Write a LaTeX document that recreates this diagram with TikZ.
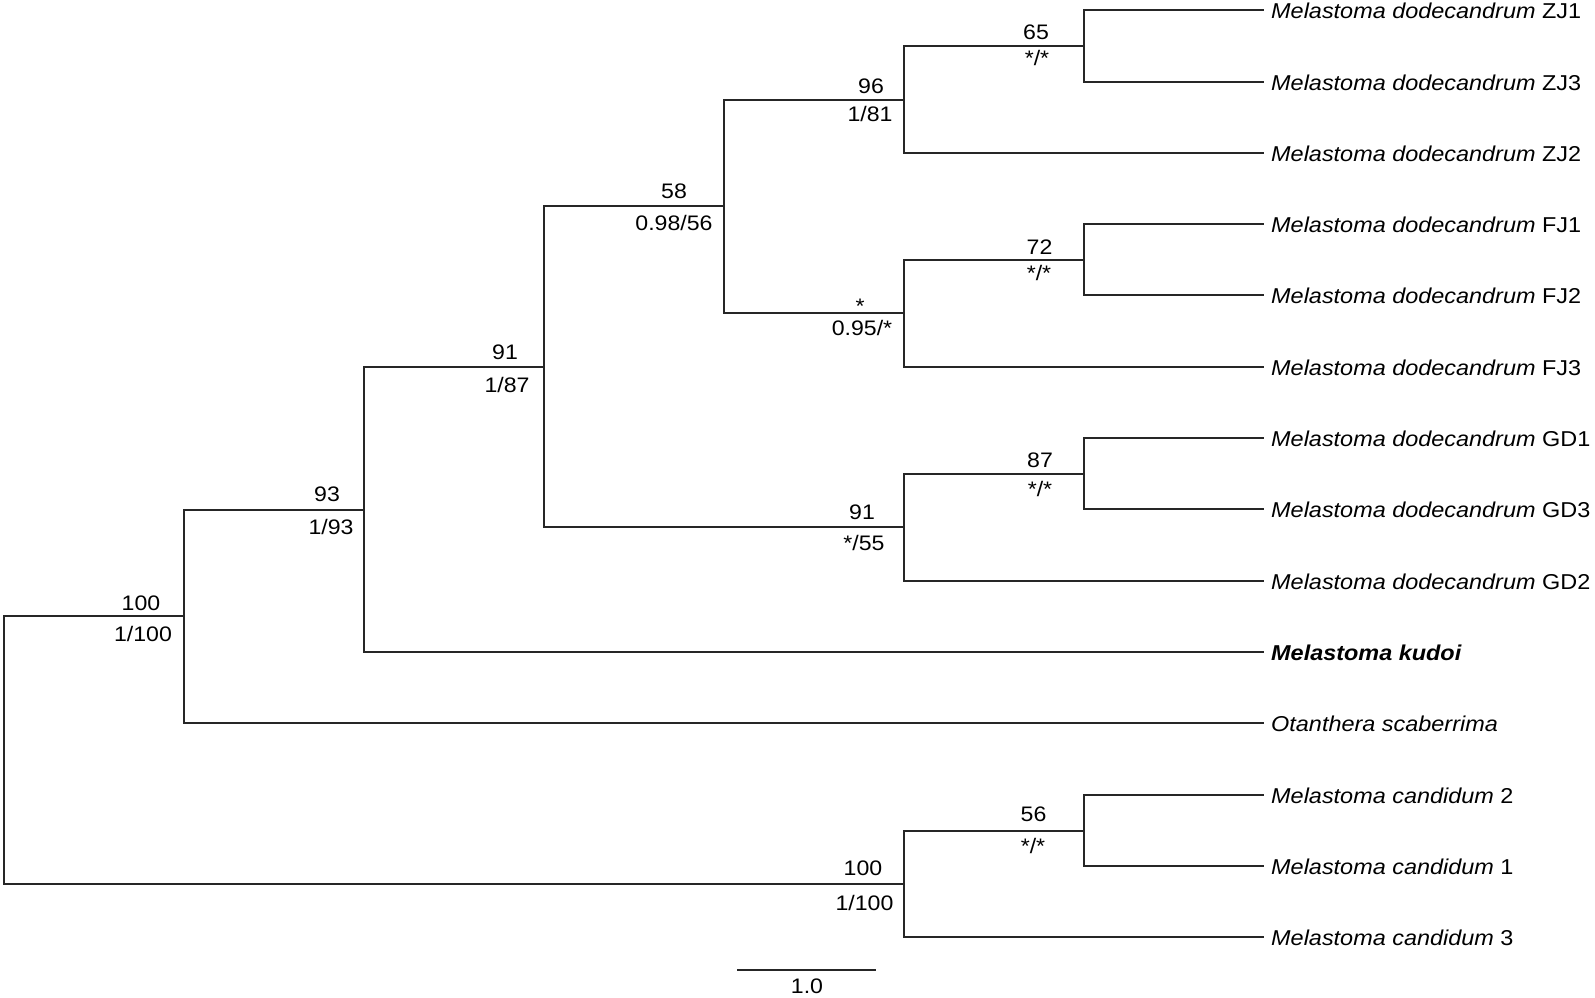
\documentclass[tikz,border=0pt]{standalone}
\usepackage{fontspec}
\setmainfont{Liberation Sans}
\newfontfamily\leaffont[FakeStretch=1.09]{Liberation Sans}
\newfontfamily\supfont[FakeStretch=1.1]{Liberation Sans}
\begin{document}
\begin{tikzpicture}[x=1pt,y=-1pt,
  br/.style={line width=2pt, draw=black!85, line cap=rect},
  leaf/.style={anchor=west, inner ysep=0pt, inner xsep=8pt, text height=17pt, text depth=0pt,
    font=\leaffont\itshape\fontsize{21.5}{25}\selectfont},
  suplab/.style={inner sep=0pt, text height=15pt, text depth=0pt, font=\supfont\fontsize{21}{25}\selectfont}]
\useasboundingbox (0,0) rectangle (1595,997);
% internal nodes
\coordinate (root) at (4,750);
\coordinate (n100) at (184,616);
\coordinate (n93) at (364,510);
\coordinate (n91a) at (544,367);
\coordinate (n58) at (724,206);
\coordinate (n96) at (904,100);
\coordinate (n65) at (1084,46);
\coordinate (nst) at (904,313);
\coordinate (n72) at (1084,260);
\coordinate (n91b) at (904,527);
\coordinate (n87) at (1084,474);
\coordinate (nc) at (904,884);
\coordinate (n56) at (1084,831);
% leaves
\node[leaf] (ZJ1) at (1263,10) {Melastoma dodecandrum \upshape ZJ1};
\node[leaf] (ZJ3) at (1263,82) {Melastoma dodecandrum \upshape ZJ3};
\node[leaf] (ZJ2) at (1263,153) {Melastoma dodecandrum \upshape ZJ2};
\node[leaf] (FJ1) at (1263,224) {Melastoma dodecandrum \upshape FJ1};
\node[leaf] (FJ2) at (1263,295) {Melastoma dodecandrum \upshape FJ2};
\node[leaf] (FJ3) at (1263,367) {Melastoma dodecandrum \upshape FJ3};
\node[leaf] (GD1) at (1263,438) {Melastoma dodecandrum \upshape GD1};
\node[leaf] (GD3) at (1263,509) {Melastoma dodecandrum \upshape GD3};
\node[leaf] (GD2) at (1263,581) {Melastoma dodecandrum \upshape GD2};
\node[leaf] (KUD) at (1263,652) {\bfseries Melastoma kudoi};
\node[leaf] (OTA) at (1263,723) {Otanthera scaberrima};
\node[leaf] (MC2) at (1263,795) {Melastoma candidum \upshape 2};
\node[leaf] (MC1) at (1263,866) {Melastoma candidum \upshape 1};
\node[leaf] (MC3) at (1263,937) {Melastoma candidum \upshape 3};
% branches
\draw[br] (root) |- (n100);
\draw[br] (root) |- (nc);
\draw[br] (n100) |- (n93);
\draw[br] (n100) |- (OTA.west);
\draw[br] (n93) |- (n91a);
\draw[br] (n93) |- (KUD.west);
\draw[br] (n91a) |- (n58);
\draw[br] (n91a) |- (n91b);
\draw[br] (n58) |- (n96);
\draw[br] (n58) |- (nst);
\draw[br] (n96) |- (n65);
\draw[br] (n96) |- (ZJ2.west);
\draw[br] (n65) |- (ZJ1.west);
\draw[br] (n65) |- (ZJ3.west);
\draw[br] (nst) |- (n72);
\draw[br] (nst) |- (FJ3.west);
\draw[br] (n72) |- (FJ1.west);
\draw[br] (n72) |- (FJ2.west);
\draw[br] (n91b) |- (n87);
\draw[br] (n91b) |- (GD2.west);
\draw[br] (n87) |- (GD1.west);
\draw[br] (n87) |- (GD3.west);
\draw[br] (nc) |- (n56);
\draw[br] (nc) |- (MC3.west);
\draw[br] (n56) |- (MC2.west);
\draw[br] (n56) |- (MC1.west);
% support labels
\node[suplab] (s100a) at (141,603) {100};
\node[suplab] (s100b) at (143,634) {1/100};
\node[suplab] (s93a) at (327,494) {93};
\node[suplab] (s93b) at (331,527) {1/93};
\node[suplab] (s91a) at (505,352) {91};
\node[suplab] (s91b) at (507,385) {1/87};
\node[suplab] (s58a) at (674,191) {58};
\node[suplab] (s58b) at (674,223) {0.98/56};
\node[suplab] (s96a) at (871,86) {96};
\node[suplab] (s96b) at (870,114) {1/81};
\node[suplab] (s65a) at (1036,32) {65};
\node[suplab] (s65b) at (1037,58) {*/*};
\node[suplab] (s72a) at (1039.5,247) {72};
\node[suplab] (s72b) at (1039,273) {*/*};
\node[suplab] (ssta) at (860,306) {*};
\node[suplab] (sstb) at (862,328) {0.95/*};
\node[suplab] (s91c) at (862,512) {91};
\node[suplab] (s91d) at (864,543) {*/55};
\node[suplab] (s87a) at (1040,460) {87};
\node[suplab] (s87b) at (1040,489) {*/*};
\node[suplab] (sc100a) at (863,868) {100};
\node[suplab] (sc100b) at (864.5,903) {1/100};
\node[suplab] (s56a) at (1033.5,814) {56};
\node[suplab] (s56b) at (1033,846) {*/*};
% scale bar
\coordinate (sb1) at (738,970);
\coordinate (sb2) at (875,970);
\draw[br] (sb1) -- (sb2);
\node[suplab] (sbl) at (807,986) {1.0};
\end{tikzpicture}
\end{document}
